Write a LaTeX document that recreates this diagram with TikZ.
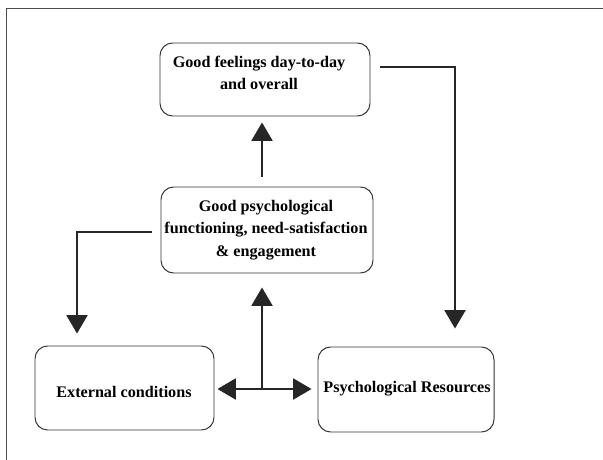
\documentclass[tikz,border=0pt]{standalone}
\usepackage{fontspec}
\setmainfont{Liberation Serif}
\usetikzlibrary{arrows.meta,calc}
\begin{document}
\begin{tikzpicture}[x=0.025cm, y=-0.025cm,
  box/.style={draw=black!80, line width=0.7pt, rounded corners=9pt, inner sep=0pt},
  txt/.style={align=center, font=\bfseries\fontsize{11.5}{16}\selectfont, inner sep=0pt},
  arr/.style={draw=black!85, line width=0.9pt, -{Triangle[width=15pt,length=13pt]}}]
\useasboundingbox (0,0) rectangle (603,459);
\draw[black!70, line width=1pt] (6.5,470) -- (6.5,8.5) -- (615,8.5);
\node[box, minimum width=210*0.025cm, minimum height=73*0.025cm] (top) at (265,79.5) {};
\node[box, minimum width=212*0.025cm, minimum height=86*0.025cm] (mid) at (267,230) {};
\node[box, minimum width=179*0.025cm, minimum height=84*0.025cm] (ext) at (124.5,388) {};
\node[box, minimum width=176*0.025cm, minimum height=85*0.025cm] (res) at (406,389.5) {};
\node[txt] (top-t) at (259,73) {Good feelings day-to-day\\and overall};
\node[txt] (mid-t) at (266,230) {Good psychological\\functioning, need-satisfaction\\\& engagement};
\node[txt] (ext-t) at (124,392) {External conditions};
\node[txt] (res-t) at (407,389) {Psychological Resources};
\coordinate (hub) at (262,389);
\draw[arr] ($(mid.north)+(-5,-10)$) -- ($(top.south)+(-3,6)$);
\draw[arr] ($(top.east)+(10,-12.5)$) -| ($(res.north)+(49,-18)$);
\draw[arr] ($(mid.west)+(-9,2)$) -| ($(ext.north)+(-47.5,-12)$);
\draw[arr, {Triangle[width=15pt,length=13pt]}-{Triangle[width=15pt,length=13pt]}] ($(ext.east)+(3,1)$) -- ($(res.west)+(-6,-0.5)$);
\draw[arr] (hub) -- ($(mid.south)+(-5,14)$);
\end{tikzpicture}
\end{document}
